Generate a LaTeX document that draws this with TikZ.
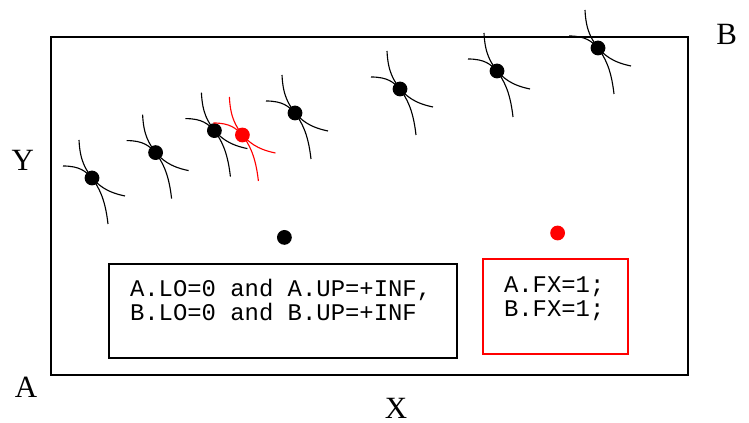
\documentclass[tikz,border=0pt]{standalone}
\usepackage{fontspec}
\setmainfont{Liberation Serif}
\setmonofont{Liberation Mono}
\usepackage{xcolor}
\usepackage{tikz}
\usetikzlibrary{positioning}
\newcommand{\blank}{\hspace*{0.6em}}

\begin{document}
\begin{tikzpicture}[
  bead/.style={circle, fill=black, inner sep=0pt, minimum size=0.37cm},
  redbead/.style={bead, fill=red},
  corner/.style={font=\fontsize{22}{26}\selectfont, anchor=base, inner sep=0pt},
  cond/.style={rectangle, draw=black, line width=1.4pt, align=left, font=\ttfamily\fontsize{17}{17}\selectfont, inner xsep=0.525cm, inner ysep=0pt},
  fixed/.style={cond, draw=red, line width=1.2pt},
  legs/.pic={
    \draw[line width=0.8pt] (-0.325,0.95) .. controls (-0.275,-0.125) and (0.25,0.19) .. (0.4,-1.15);
    \draw[line width=0.8pt] (-0.725,0.3) .. controls (0.125,0.3) and (-0.16,-0.25) .. (0.825,-0.45);
  }
]
\useasboundingbox (0,0) rectangle (18.725,10.575);
\draw[line width=1.6pt] (1.275,1.2) rectangle (17.2,9.65);
\node[corner] (lblB) at (18.17,9.47) {B};
\node[corner] (lblY) at (0.57,6.32) {Y};
\node[corner] (lblA) at (0.65,0.645) {A};
\node[corner] (lblX) at (9.9,0.12) {X};
\node[bead] (s1) at (2.3,6.125) {};
\node[bead] (s2) at (3.89,6.76) {};
\node[bead] (s3) at (5.36,7.31) {};
\node[redbead] (r1) at (6.06,7.2) {};
\node[bead] (s4) at (7.375,7.75) {};
\node[bead] (s5) at (10.0,8.35) {};
\node[bead] (s6) at (12.425,8.8) {};
\node[bead] (s7) at (14.95,9.375) {};
\pic at (s1) {legs};
\pic at (s2) {legs};
\pic at (s3) {legs};
\pic[red] at (r1) {legs};
\pic at (s4) {legs};
\pic at (s5) {legs};
\pic at (s6) {legs};
\pic at (s7) {legs};
\node[bead] (lone) at (7.11,4.64) {};
\node[redbead] (lonered) at (13.94,4.75) {};
\node[cond, minimum width=8.7cm, minimum height=2.35cm, text width=7.65cm] (bounds) at (7.075,2.8) {A.LO=0\blank and\blank A.UP=+INF,\\B.LO=0\blank and\blank B.UP=+INF\\[-0.2cm]\strut};
\node[fixed, minimum width=3.625cm, minimum height=2.375cm, text width=2.575cm] (fix) at (13.8875,2.9125) {A.FX=1;\\B.FX=1;\\[-0.3cm]\strut};
\end{tikzpicture}
\end{document}
